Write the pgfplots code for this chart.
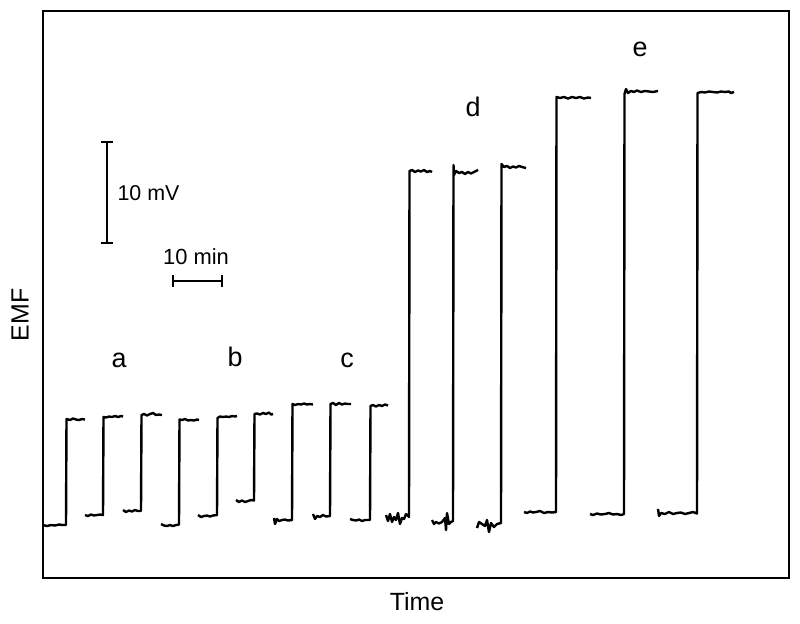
\documentclass[border=0pt]{standalone}
\usepackage{pgfplots}
\pgfplotsset{compat=1.18}
\usepackage{fontspec}
\setmainfont{Liberation Sans}

% trace in pixel units (x right, y down); nan breaks the line
\pgfplotstableread{
x y
43 525
47 526
51 525
55 525.5
59 524.5
63 525
66 525
66.5 419
70 420
73 418.5
76 419.5
79 420
82 419
85 419.5
nan nan
85 515
88 516
91 514.5
94 515.5
97 515
100 514.5
103 515
103.5 417
106 417.5
109 416.5
112 417
115 416
118 417
121 416
123 416.5
nan nan
123 510
126 512
129 510.5
132 511.5
135 510
138 511
141 511
141.5 415
144 414
147 415.5
150 414
153 413
156 415
159 414.5
162 415
nan nan
161 524
164 525.5
167 526
170 525
173 526
176 525
179 524.5
179.5 419.5
182 420
185 419
188 420.5
191 420
194 420.5
197 419.5
199 420
nan nan
198 515
201 517
204 516
207 515.5
210 516.5
213 515.5
217 515
217.5 418
220 416.5
223 417
226 416.5
229 417
232 416
235 416.5
237 416
nan nan
236 500
239 502
242 500.5
245 502
248 501
251 500
254 500.5
254.5 414
257 413.5
260 414.5
263 413
266 414
269 412.5
271 414.5
273 414
nan nan
274 518
275 524
277 519
279 521
282 520
285 519.5
288 520.5
292 520
292.5 404
295 405
298 404
301 404.5
304 403.5
307 404.5
310 404
313 404.5
nan nan
313 514
315 519
317 516
320 517
323 515
326 516.5
330 516
330.5 404
333 403
336 405
339 403
342 404.5
345 403.5
348 404
351 404
nan nan
350 519
353 520
356 520.5
359 519.5
362 521
365 520
370 520
370.5 406
373 405
376 406.5
379 405
382 406
385 404.5
388 405.5
nan nan
386 515
388 521
390 514
392 522
394 517
396 520
398 513
400 524
402 518
404 519
406 514
409 517
409.5 171
412 170
415 172
418 170.5
421 171.5
424 170
427 172
430 171
432 172
nan nan
432 520
434 524
436 522
439 523.5
442 522
445 518
446 530
447 513
449 524
451 522
453 521
453.5 165
454 175
456 171
459 173
462 172
465 174
468 172
471 173.5
474 172
478 170
nan nan
477 528
479 522
482 524
485 526
487 520
489 532
491 523
494 527
497 524
501 523
501.5 164
504 167
507 166
510 168
513 166.5
516 167.5
519 166
522 167
526 168
nan nan
524 512
527 513
530 511.5
533 512.5
536 512
540 511
544 513
548 512
552 512.5
556 512
556.5 97
560 98
564 97
568 98.5
572 97
576 98
580 97
584 98.5
588 97.5
591 98
nan nan
590 514
593 515
597 513.5
601 514.5
605 514
609 513
613 514.5
617 514
621 515
624 514
624.5 94
626 89
628 93
631 91
634 92
637 90.5
641 92
645 91
649 91.5
653 92
658 91
nan nan
658 509
659 516
661 513
665 514
669 512
673 514
677 513
681 512.5
685 514
689 513
693 512
697 513.5
697.5 93
701 92
705 92.5
709 91.5
713 92
717 92.5
721 91.5
725 92
729 91.5
731 93
734 92
}\trace

\begin{document}
\begin{tikzpicture}
\useasboundingbox (0,0) rectangle (800bp,-624bp);
\begin{axis}[
    at={(43bp,-11bp)}, anchor=north west,
    scale only axis,
    width=746bp, height=567bp,
    xmin=43, xmax=789, ymin=11, ymax=578,
    y dir=reverse,
    xtick=\empty, ytick=\empty,
    axis line style={line width=1.8bp},
    clip=false,
    unbounded coords=jump,
]
\addplot[black, line width=2.4bp, line join=round] table[x=x, y=y] {\trace};

% scale bars
\draw[line width=1.8bp] (axis cs:107,142) -- (axis cs:107,243);
\draw[line width=1.8bp] (axis cs:101,142) -- (axis cs:113,142);
\draw[line width=1.8bp] (axis cs:101,243) -- (axis cs:113,243);
\draw[line width=1.8bp] (axis cs:173,281) -- (axis cs:222,281);
\draw[line width=1.8bp] (axis cs:173,275) -- (axis cs:173,287);
\draw[line width=1.8bp] (axis cs:222,275) -- (axis cs:222,287);
\node[anchor=west, font=\fontsize{21.5}{25}\selectfont] at (axis cs:114,193) {10 mV};
\node[font=\fontsize{22}{26}\selectfont] at (axis cs:196,257) {10 min};

% group letters
\node[font=\fontsize{27}{31}\selectfont] at (axis cs:119,360) {a};
\node[font=\fontsize{27}{31}\selectfont] at (axis cs:235,357) {b};
\node[font=\fontsize{27}{31}\selectfont] at (axis cs:347,360) {c};
\node[font=\fontsize{27}{31}\selectfont] at (axis cs:473,107) {d};
\node[font=\fontsize{27}{31}\selectfont] at (axis cs:640,49) {e};

% axis titles
\node[font=\fontsize{25}{29}\selectfont] at (axis cs:417,602) {Time};
\node[rotate=90, font=\fontsize{25}{29}\selectfont] at (axis cs:20,315) {EMF};
\end{axis}
\end{tikzpicture}
\end{document}
